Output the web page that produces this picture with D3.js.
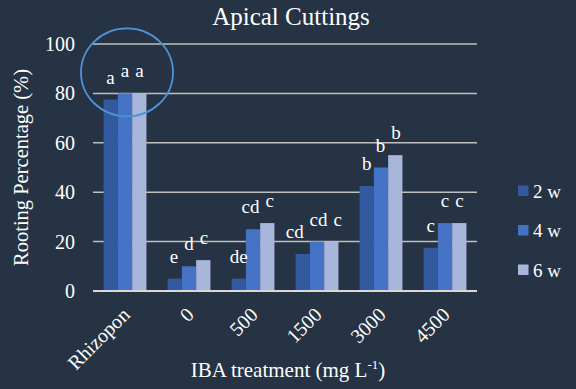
<!DOCTYPE html>
<html><head><meta charset="utf-8">
<script src="https://cdn.jsdelivr.net/npm/d3@7"></script>
<style>
html,body{margin:0;padding:0;background:#253345;}
svg{display:block;}
svg text{font-family:"Liberation Serif","Times New Roman","DejaVu Serif",serif;}
</style></head>
<body><svg id="c" width="576" height="389"></svg>
<script>
const categories = ["Rhizopon","0","500","1500","3000","4500"];
const seriesNames = ["2 w","4 w","6 w"];
const values2w = [77.5, 5, 5, 15, 42.5, 17.5];
const values4w = [80, 10, 25, 20, 50, 27.5];
const values6w = [80, 12.5, 27.5, 20, 55, 27.5];
const letters2w = ["a","e","de","cd","b","c"];
const letters4w = ["a","d","cd","cd","b","c"];
const letters6w = ["a","c","c","c","b","c"];
const yTicks = [0,20,40,60,80,100];
const colors = ["#335a9e","#4472c4","#a8b6dc"];

const seriesVals = [values2w, values4w, values6w];
const seriesLetters = [letters2w, letters4w, letters6w];

const svg = d3.select("#c");
const pL = 93, pR = 477, pT = 44, pB = 291;

const x = d3.scaleBand().domain(categories).range([pL, pR]).paddingInner(0.33).paddingOuter(0.165);
const xs = d3.scaleBand().domain(d3.range(3)).range([0, x.bandwidth()]);
const y = d3.scaleLinear().domain([0, 100]).range([pB, pT]);

// gridlines
svg.append("g").selectAll("line").data(yTicks.filter(d => d > 0)).join("line")
  .attr("x1", pL).attr("x2", pR)
  .attr("y1", d => y(d)).attr("y2", d => y(d))
  .attr("stroke", "#bfbfbf").attr("stroke-width", 1.5);

// y tick labels
svg.append("g").selectAll("text").data(yTicks).join("text")
  .attr("x", 75).attr("y", d => y(d)).attr("dy", "0.35em")
  .attr("text-anchor", "end").attr("fill", "#ffffff").attr("font-size", 20)
  .text(d => d);

// bars
seriesVals.forEach((vals, si) => {
  svg.append("g").selectAll("rect").data(vals).join("rect")
    .attr("x", (d, i) => x(categories[i]) + xs(si))
    .attr("width", xs.bandwidth())
    .attr("y", d => y(d))
    .attr("height", d => y(0) - y(d))
    .attr("fill", colors[si]);
});

// baseline
svg.append("line").attr("x1", pL).attr("x2", pR).attr("y1", y(0)).attr("y2", y(0))
  .attr("stroke", "#d9d9d9").attr("stroke-width", 2);

// letters (with simple overlap avoidance like the original's label layout)
const lblG = svg.append("g");
categories.forEach((c, ci) => {
  const labs = seriesVals.map((vals, si) => {
    const lx = x(c) + xs(si) + xs.bandwidth() / 2;
    const ly = y(vals[ci]) - 16;
    const node = lblG.append("text")
      .attr("x", lx).attr("y", ly)
      .attr("text-anchor", "middle").attr("fill", "#ffffff").attr("font-size", 19)
      .text(seriesLetters[si][ci]);
    return {x: lx, y: ly, w: node.node().getComputedTextLength(), node};
  });
  const pad = 3;
  for (let it = 0; it < 40; it++) {
    for (let i = 0; i < labs.length - 1; i++) {
      const a = labs[i], b = labs[i + 1];
      if (Math.abs(a.y - b.y) < 12.5) {
        const ov = (a.x + a.w / 2 + pad) - (b.x - b.w / 2 - pad);
        if (ov > 0.1) { a.x -= ov / 2; b.x += ov / 2; }
      }
    }
  }
  labs.forEach(l => l.node.attr("x", l.x));
});

// x tick labels
svg.append("g").selectAll("text").data(categories).join("text")
  .attr("transform", d => `translate(${x(d) + x.bandwidth() / 2 + 6},${316}) rotate(-45)`)
  .attr("text-anchor", "end").attr("fill", "#ffffff").attr("font-size", 20)
  .text(d => d);

// title
svg.append("text").attr("x", 291).attr("y", 25).attr("text-anchor", "middle")
  .attr("fill", "#ffffff").attr("font-size", 25).text("Apical Cuttings");

// y title
svg.append("text").attr("transform", `translate(28,${(pT + pB) / 2}) rotate(-90)`)
  .attr("text-anchor", "middle").attr("fill", "#ffffff").attr("font-size", 20.5)
  .text("Rooting Percentage (%)");

// x title
const xt = svg.append("text").attr("x", 288).attr("y", 377).attr("text-anchor", "middle")
  .attr("fill", "#ffffff").attr("font-size", 21);
xt.append("tspan").text("IBA treatment (mg L");
xt.append("tspan").attr("dy", -8).attr("font-size", 13).text("-1");
xt.append("tspan").attr("dy", 8).text(")");

// legend
const lg = svg.append("g");
seriesNames.forEach((n, i) => {
  const cy = 191 + i * 39.5;
  lg.append("rect").attr("x", 518).attr("y", cy - 5.5).attr("width", 10.5).attr("height", 10.5).attr("fill", colors[i]);
  lg.append("text").attr("x", 533).attr("y", cy).attr("dy", "0.35em").attr("fill", "#ffffff").attr("font-size", 19).text(n);
});

// highlight ellipse around Rhizopon
svg.append("ellipse")
  .attr("cx", x(categories[0]) + x.bandwidth() / 2 + 2)
  .attr("cy", y(88.5))
  .attr("rx", 46).attr("ry", 44)
  .attr("fill", "none").attr("stroke", "#4d93d4").attr("stroke-width", 1.8);
</script></body></html>
